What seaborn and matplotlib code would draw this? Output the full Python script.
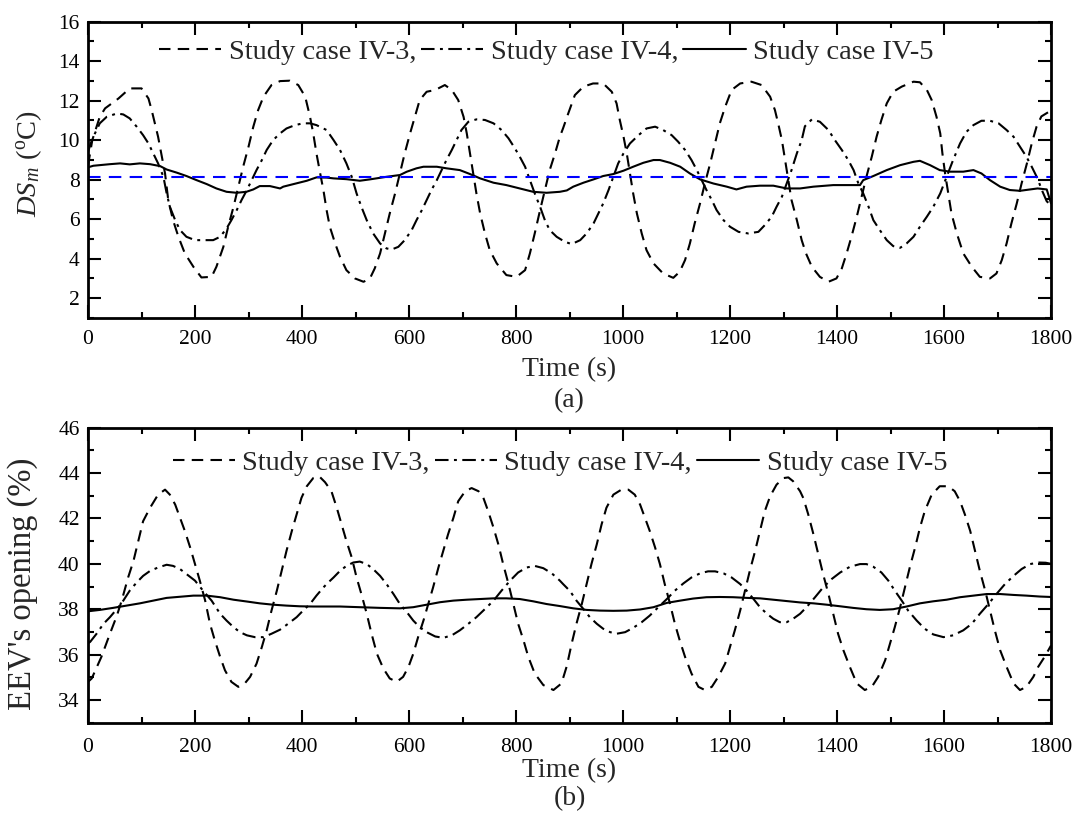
import matplotlib
matplotlib.use("Agg")
import matplotlib.pyplot as plt
from matplotlib.ticker import MultipleLocator
import seaborn as sns

# ---------------------------------------------------------------- data
# (a) degree of superheat DS_m (deg C) versus time (s)
t_ds_iv3 = [0, 8, 22, 32, 57, 78, 100, 113, 119, 131, 144, 150, 159, 169, 181, 197, 212, 231, 240, 253,
            262, 272, 281, 290, 300, 309, 318, 328, 343, 359, 377, 393, 406, 415, 421, 427, 434, 440, 446, 452,
            462, 471, 483, 499, 515, 527, 536, 546, 555, 564, 574, 583, 592, 602, 611, 620, 633, 649, 667, 680,
            692, 702, 708, 714, 720, 726, 733, 742, 751, 764, 782, 801, 817, 826, 835, 845, 854, 863, 873, 882,
            888, 897, 910, 926, 944, 963, 979, 988, 994, 1001, 1007, 1013, 1019, 1026, 1035, 1044, 1057, 1075,
            1094, 1106, 1116, 1125, 1134, 1144, 1153, 1163, 1172, 1181, 1191, 1203, 1219, 1240, 1259, 1275,
            1284, 1290, 1297, 1303, 1309, 1315, 1325, 1334, 1342, 1353, 1368, 1384, 1399, 1409, 1418, 1427,
            1437, 1446, 1455, 1465, 1474, 1483, 1493, 1505, 1521, 1543, 1555, 1568, 1577, 1586, 1593, 1597,
            1602, 1608, 1614, 1624, 1636, 1652, 1667, 1686, 1698, 1708, 1717, 1726, 1736, 1745, 1755, 1764,
            1773, 1782, 1800]
ds_iv3 = [8.7, 10.0, 11.18, 11.61, 12.11, 12.62, 12.62, 12.11, 11.52, 10.17, 8.31, 6.96, 5.94, 5.10, 4.26,
          3.58, 3.04, 3.07, 3.58, 4.59, 5.61, 6.62, 7.64, 8.65, 9.66, 10.68, 11.52, 12.20, 12.79, 12.99, 13.01,
          12.79, 12.20, 11.18, 10.34, 9.33, 8.31, 7.47, 6.45, 5.61, 4.76, 4.09, 3.41, 2.99, 2.82, 2.99, 3.50,
          4.26, 5.27, 6.28, 7.30, 8.31, 9.33, 10.34, 11.18, 12.03, 12.45, 12.54, 12.79, 12.54, 12.03, 11.18,
          10.34, 9.33, 8.31, 7.30, 6.28, 5.27, 4.42, 3.75, 3.16, 3.07, 3.41, 4.26, 5.27, 6.45, 7.47, 8.48, 9.33,
          10.17, 10.6, 11.3, 12.28, 12.71, 12.87, 12.87, 12.45, 11.86, 11.02, 10.17, 9.33, 8.31, 7.30, 6.28,
          5.27, 4.42, 3.75, 3.24, 3.02, 3.33, 3.92, 4.76, 5.78, 6.79, 7.80, 8.82, 9.83, 10.85, 11.69, 12.54,
          12.87, 12.96, 12.79, 12.20, 11.52, 10.85, 10.00, 8.99, 7.97, 6.96, 5.94, 4.93, 4.26, 3.58, 3.07,
          2.82, 2.99, 3.50, 4.26, 5.10, 6.12, 7.13, 8.14, 9.16, 10.17, 11.02, 11.86, 12.45, 12.71, 12.96, 12.93,
          12.54, 12.03, 11.18, 10.34, 9.33, 8.31, 7.30, 6.28, 5.27, 4.26, 3.58, 3.07, 2.99, 3.24, 3.92, 4.76,
          5.78, 6.79, 7.80, 8.82, 9.83, 10.68, 11.2, 11.5]

t_ds_iv4 = [0, 6, 13, 22, 35, 54, 66, 78, 91, 103, 113, 122, 131, 141, 147, 153, 163, 172, 184, 200, 219,
            234, 247, 259, 268, 278, 287, 297, 306, 315, 325, 334, 346, 359, 371, 387, 402, 415, 427, 440, 446,
            459, 471, 483, 493, 502, 511, 521, 533, 546, 558, 568, 580, 592, 605, 614, 624, 633, 642, 652, 661,
            670, 680, 689, 698, 711, 726, 742, 758, 773, 786, 798, 807, 817, 826, 835, 845, 854, 863, 876, 891,
            904, 920, 932, 945, 954, 963, 973, 982, 991, 1001, 1013, 1029, 1044, 1060, 1075, 1091, 1103, 1116,
            1128, 1138, 1147, 1156, 1166, 1175, 1188, 1200, 1216, 1234, 1253, 1265, 1278, 1287, 1297, 1306,
            1315, 1325, 1334, 1340, 1353, 1368, 1384, 1396, 1409, 1421, 1431, 1440, 1449, 1459, 1468, 1480,
            1493, 1505, 1518, 1530, 1543, 1555, 1568, 1580, 1593, 1605, 1617, 1630, 1642, 1655, 1670, 1686,
            1702, 1717, 1730, 1742, 1754, 1764, 1774, 1784, 1792, 1800]
ds_iv4 = [9.4, 9.9, 10.34, 10.85, 11.18, 11.35, 11.30, 11.10, 10.68, 10.25, 9.83, 9.33, 8.82, 8.14, 7.30,
          6.62, 5.94, 5.44, 5.10, 4.93, 4.93, 4.93, 5.10, 5.52, 5.94, 6.45, 6.96, 7.47, 7.97, 8.48, 8.99, 9.50,
          10.00, 10.34, 10.59, 10.76, 10.85, 10.85, 10.76, 10.59, 10.51, 10.00, 9.50, 8.82, 8.14, 7.30, 6.62,
          5.94, 5.27, 4.76, 4.51, 4.46, 4.59, 4.93, 5.44, 5.94, 6.45, 6.96, 7.47, 7.97, 8.48, 8.99, 9.50,
          10.00, 10.51, 10.93, 11.05, 11.02, 10.85, 10.51, 10.09, 9.58, 9.16, 8.65, 7.97, 7.30, 6.62, 5.94,
          5.44, 5.10, 4.85, 4.73, 4.93, 5.27, 5.78, 6.28, 6.79, 7.47, 8.14, 8.82, 9.33, 9.83, 10.25, 10.59,
          10.68, 10.51, 10.25, 9.92, 9.50, 8.99, 8.48, 7.97, 7.47, 6.96, 6.45, 5.94, 5.61, 5.35, 5.27, 5.35,
          5.69, 6.12, 6.62, 7.13, 7.80, 8.48, 9.33, 10.00, 10.7, 11.05, 10.93, 10.51, 10.00, 9.50, 8.99, 8.48,
          7.80, 7.30, 6.62, 5.94, 5.44, 4.93, 4.63, 4.54, 4.76, 5.10, 5.61, 6.12, 6.62, 7.30, 8.14, 8.99, 9.83,
          10.42, 10.76, 10.98, 10.98, 10.85, 10.51, 10.17, 9.66, 9.16, 8.65, 8.1, 7.4, 6.9, 6.7]

t_ds_iv5 = [0, 10, 41, 60, 78, 97, 116, 135, 147, 166, 184, 203, 222, 240, 259, 278, 296, 309, 321, 340, 359,
            365, 384, 409, 427, 446, 459, 483, 508, 527, 558, 583, 596, 614, 627, 652, 670, 695, 714, 733, 758,
            782, 807, 832, 857, 882, 895, 907, 926, 945, 963, 982, 1001, 1019, 1038, 1057, 1069, 1088, 1107,
            1125, 1144, 1169, 1194, 1212, 1231, 1256, 1281, 1306, 1331, 1356, 1393, 1443, 1449, 1468, 1493,
            1518, 1543, 1555, 1574, 1592, 1611, 1636, 1655, 1670, 1686, 1705, 1723, 1742, 1761, 1775, 1792,
            1800]
ds_iv5 = [8.62, 8.70, 8.78, 8.82, 8.77, 8.82, 8.78, 8.68, 8.51, 8.35, 8.18, 7.97, 7.77, 7.55, 7.38, 7.33,
          7.38, 7.50, 7.67, 7.67, 7.55, 7.64, 7.77, 7.94, 8.11, 8.10, 8.06, 8.02, 7.94, 8.01, 8.14, 8.23, 8.40,
          8.57, 8.65, 8.65, 8.57, 8.48, 8.28, 8.06, 7.84, 7.72, 7.55, 7.38, 7.33, 7.38, 7.45, 7.64, 7.84, 8.01,
          8.18, 8.28, 8.45, 8.65, 8.85, 8.99, 8.99, 8.85, 8.65, 8.31, 8.01, 7.80, 7.64, 7.50, 7.64, 7.69, 7.69,
          7.55, 7.55, 7.64, 7.72, 7.72, 7.97, 8.18, 8.48, 8.73, 8.90, 8.95, 8.73, 8.48, 8.40, 8.40, 8.48, 8.31,
          7.97, 7.64, 7.47, 7.43, 7.50, 7.55, 7.5, 6.8]

ds_setpoint = 8.15

# (b) EEV opening (%) versus time (s)
t_ev_iv3 = [0, 7, 25, 41, 54, 63, 75, 85, 94, 103, 116, 131, 144, 153, 163, 172, 181, 191, 200, 209, 219,
            228, 237, 247, 256, 268, 281, 293, 303, 315, 325, 334, 343, 353, 362, 371, 381, 390, 399, 409, 421,
            432, 443, 455, 465, 474, 483, 493, 502, 511, 521, 530, 540, 552, 564, 577, 589, 599, 608, 617, 627,
            636, 645, 655, 664, 673, 683, 692, 705, 717, 730, 739, 748, 758, 767, 776, 786, 795, 804, 814, 823,
            835, 851, 870, 885, 895, 904, 913, 923, 932, 941, 951, 960, 969, 982, 997, 1010, 1022, 1032, 1041,
            1050, 1060, 1069, 1078, 1088, 1097, 1106, 1116, 1128, 1141, 1153, 1166, 1178, 1191, 1200, 1209,
            1219, 1228, 1237, 1247, 1256, 1265, 1275, 1287, 1300, 1309, 1318, 1331, 1337, 1346, 1356, 1365,
            1374, 1384, 1393, 1402, 1412, 1424, 1437, 1452, 1465, 1477, 1490, 1499, 1508, 1518, 1527, 1536,
            1546, 1555, 1564, 1577, 1592, 1608, 1620, 1630, 1639, 1649, 1658, 1667, 1677, 1686, 1695, 1705,
            1717, 1730, 1742, 1754, 1767, 1776, 1788, 1800]
ev_iv3 = [34.8, 34.95, 35.90, 36.92, 37.72, 38.38, 39.40, 40.13, 41.01, 41.88, 42.47, 43.05, 43.27, 43.05,
          42.61, 42.03, 41.45, 40.72, 39.99, 39.26, 38.38, 37.36, 36.63, 35.90, 35.31, 34.80, 34.58, 34.73,
          35.02, 35.60, 36.34, 37.07, 37.94, 38.82, 39.69, 40.57, 41.45, 42.18, 42.91, 43.42, 43.78, 43.86,
          43.6, 43.20, 42.47, 41.74, 41.01, 40.28, 39.40, 38.67, 37.80, 36.92, 36.04, 35.39, 34.95, 34.80,
          35.02, 35.46, 36.04, 36.77, 37.50, 38.23, 38.96, 39.84, 40.57, 41.30, 42.03, 42.76, 43.20, 43.34,
          43.20, 42.91, 42.32, 41.59, 40.86, 39.99, 39.11, 38.23, 37.36, 36.63, 35.90, 35.17, 34.66, 34.44,
          34.73, 35.5, 36.48, 37.36, 38.23, 39.11, 39.99, 40.86, 41.74, 42.47, 43.05, 43.27, 43.27, 43.05,
          42.61, 42.03, 41.45, 40.72, 39.99, 39.11, 38.23, 37.36, 36.63, 35.90, 35.17, 34.58, 34.44, 34.58,
          35.02, 35.61, 36.34, 37.07, 37.94, 38.82, 39.69, 40.57, 41.45, 42.32, 42.98, 43.49, 43.78, 43.81,
          43.64, 43.20, 42.9, 42.2, 41.30, 40.43, 39.55, 38.67, 37.80, 36.92, 36.19, 35.46, 34.73, 34.44,
          34.58, 35.02, 35.75, 36.48, 37.21, 38.09, 38.96, 39.84, 40.72, 41.59, 42.32, 43.05, 43.42, 43.42,
          43.20, 42.76, 42.18, 41.45, 40.57, 39.69, 38.82, 37.94, 37.07, 36.19, 35.46, 34.73, 34.44, 34.58,
          35.02, 35.46, 35.9, 36.4]

t_ev_iv4 = [0, 4, 16, 29, 41, 54, 66, 78, 91, 103, 116, 131, 147, 159, 172, 184, 200, 215, 231, 247, 259,
            272, 284, 297, 312, 328, 343, 359, 374, 390, 402, 415, 427, 440, 446, 459, 471, 483, 496, 508, 521,
            533, 546, 558, 571, 583, 596, 608, 620, 633, 649, 664, 680, 695, 711, 726, 742, 758, 773, 789, 804,
            820, 835, 851, 867, 882, 888, 901, 913, 926, 938, 951, 963, 976, 988, 1004, 1019, 1035, 1050, 1066,
            1082, 1097, 1113, 1128, 1144, 1159, 1172, 1188, 1203, 1219, 1231, 1244, 1256, 1269, 1281, 1293,
            1306, 1318, 1331, 1343, 1359, 1374, 1390, 1406, 1424, 1443, 1455, 1468, 1483, 1496, 1508, 1521,
            1533, 1549, 1564, 1580, 1599, 1617, 1636, 1652, 1667, 1683, 1698, 1714, 1730, 1745, 1761, 1776,
            1790, 1800]
ev_iv4 = [36.5, 36.56, 36.92, 37.36, 37.65, 38.01, 38.38, 38.82, 39.18, 39.47, 39.69, 39.84, 39.96, 39.91,
          39.77, 39.55, 39.26, 38.82, 38.38, 37.80, 37.50, 37.21, 36.99, 36.85, 36.77, 36.77, 36.92, 37.10,
          37.36, 37.65, 37.94, 38.23, 38.60, 38.96, 39.11, 39.40, 39.69, 39.91, 40.06, 40.10, 39.99, 39.77,
          39.47, 39.11, 38.67, 38.23, 37.87, 37.50, 37.21, 36.99, 36.80, 36.74, 36.85, 37.07, 37.36, 37.65,
          38.01, 38.38, 38.82, 39.26, 39.62, 39.84, 39.91, 39.81, 39.58, 39.26, 39.11, 38.8, 38.38, 38.01,
          37.65, 37.36, 37.14, 36.99, 36.92, 36.99, 37.18, 37.43, 37.72, 38.09, 38.45, 38.82, 39.14, 39.40,
          39.58, 39.67, 39.67, 39.58, 39.40, 39.11, 38.82, 38.45, 38.09, 37.80, 37.58, 37.43, 37.43, 37.58,
          37.80, 38.09, 38.53, 38.96, 39.33, 39.62, 39.87, 39.99, 39.99, 39.87, 39.62, 39.26, 38.82, 38.38,
          37.94, 37.50, 37.14, 36.89, 36.77, 36.85, 37.07, 37.36, 37.80, 38.23, 38.67, 39.11, 39.47, 39.77,
          39.99, 40.06, 40.05, 40.0]

t_ev_iv5 = [0, 22, 47, 72, 97, 122, 147, 172, 197, 222, 247, 272, 297, 321, 346, 371, 396, 421, 446, 471,
            508, 546, 583, 608, 633, 658, 683, 708, 733, 758, 782, 807, 832, 857, 882, 907, 932, 957, 982, 1007,
            1032, 1057, 1082, 1107, 1131, 1156, 1181, 1206, 1231, 1256, 1281, 1306, 1331, 1356, 1381, 1406,
            1430, 1455, 1480, 1505, 1530, 1555, 1580, 1605, 1630, 1655, 1680, 1705, 1730, 1754, 1779, 1800]
ev_iv5 = [37.91, 37.97, 38.06, 38.16, 38.26, 38.38, 38.50, 38.55, 38.60, 38.60, 38.53, 38.42, 38.34, 38.26,
          38.20, 38.16, 38.13, 38.12, 38.12, 38.12, 38.09, 38.06, 38.04, 38.09, 38.20, 38.31, 38.38, 38.42,
          38.45, 38.48, 38.48, 38.45, 38.35, 38.23, 38.14, 38.04, 37.97, 37.94, 37.93, 37.94, 37.99, 38.09,
          38.28, 38.38, 38.47, 38.53, 38.54, 38.53, 38.50, 38.48, 38.42, 38.36, 38.30, 38.26, 38.20, 38.13,
          38.06, 38.00, 37.97, 38.00, 38.12, 38.26, 38.35, 38.42, 38.53, 38.60, 38.67, 38.67, 38.63, 38.60,
          38.56, 38.54]

case_labels = ["Study case IV-3,", "Study case IV-4,", "Study case IV-5"]

# ---------------------------------------------------------------- style
sns.set_theme(style="ticks")
plt.rcParams["font.family"] = ["Liberation Serif", "DejaVu Serif"]
plt.rcParams["mathtext.fontset"] = "custom"
plt.rcParams["mathtext.rm"] = "Liberation Serif"
plt.rcParams["mathtext.it"] = "Liberation Serif:italic"

LW = 1.5
line_styles = [(0, (5.5, 3.5)), (0, (6.5, 2.6, 1.4, 2.6)), "-"]

W, H = 1079, 814
fig = plt.figure(figsize=(W / 100, H / 100), dpi=100)
ax_a = fig.add_axes([88 / W, 1 - 317.7 / H, 963 / W, 296 / H])
ax_b = fig.add_axes([88 / W, 1 - 722.7 / H, 963 / W, 295 / H])


def draw_cases(ax, series):
    handles = []
    for (t, v), ls in zip(series, line_styles):
        sns.lineplot(x=t, y=v, ax=ax, color="black", linewidth=LW,
                     estimator=None, sort=False)
        line = ax.lines[-1]
        line.set_linestyle(ls)
        handles.append(line)
    return handles


def style_axes(ax, ylim, xpad):
    ax.set_xlim(0, 1800)
    ax.set_ylim(*ylim)
    ax.xaxis.set_major_locator(MultipleLocator(200))
    ax.xaxis.set_minor_locator(MultipleLocator(100))
    ax.yaxis.set_major_locator(MultipleLocator(2))
    ax.yaxis.set_minor_locator(MultipleLocator(1))
    ax.tick_params(which="both", direction="in", top=True, right=True,
                   width=1.5, color="black", labelsize=15.5, labelcolor="black")
    ax.tick_params(which="major", length=9.5)
    ax.tick_params(which="minor", length=4.5)
    ax.tick_params(axis="x", which="major", pad=xpad)
    ax.tick_params(axis="y", which="major", pad=6)
    for sp in ax.spines.values():
        sp.set_visible(True)
        sp.set_linewidth(2.0)
        sp.set_color("black")
    ax.grid(False)


legend_kw = dict(loc="center", ncol=3, frameon=False, fontsize=20.5, handlelength=2.2,
                 handletextpad=0.25, columnspacing=0.17, borderpad=0, borderaxespad=0)

# (a)
h_a = draw_cases(ax_a, [(t_ds_iv3, ds_iv3), (t_ds_iv4, ds_iv4), (t_ds_iv5, ds_iv5)])
ax_a.axhline(ds_setpoint, color="#0000ff", linewidth=LW, linestyle=(0, (6, 4)))
style_axes(ax_a, (1, 16), xpad=9)
ax_a.set_xlabel("Time (s)", fontsize=20, labelpad=6)
ax_a.set_ylabel(r"$\mathit{DS}_{m}$ (${}^{\mathrm{o}}$C)", fontsize=20.5)
ax_a.yaxis.set_label_coords(-0.046, 0.52)
ax_a.legend(h_a, case_labels, bbox_to_anchor=(0.4756, 0.8976), **legend_kw)

# (b)
h_b = draw_cases(ax_b, [(t_ev_iv3, ev_iv3), (t_ev_iv4, ev_iv4), (t_ev_iv5, ev_iv5)])
style_axes(ax_b, (33, 46), xpad=11)
ax_b.set_xlabel("Time (s)", fontsize=20, labelpad=0.5)
ax_b.set_ylabel("EEV's opening (%)", fontsize=23.5)
ax_b.yaxis.set_label_coords(-0.052, 0.47)
ax_b.legend(h_b, case_labels, bbox_to_anchor=(0.490, 0.880), **legend_kw)

fig.text(569.5 / W, 1 - 401 / H, "(a)", ha="center", va="center", fontsize=20)
fig.text(569.5 / W, 1 - 799 / H, "(b)", ha="center", va="center", fontsize=20)

fig.savefig("out.png", dpi=100)
